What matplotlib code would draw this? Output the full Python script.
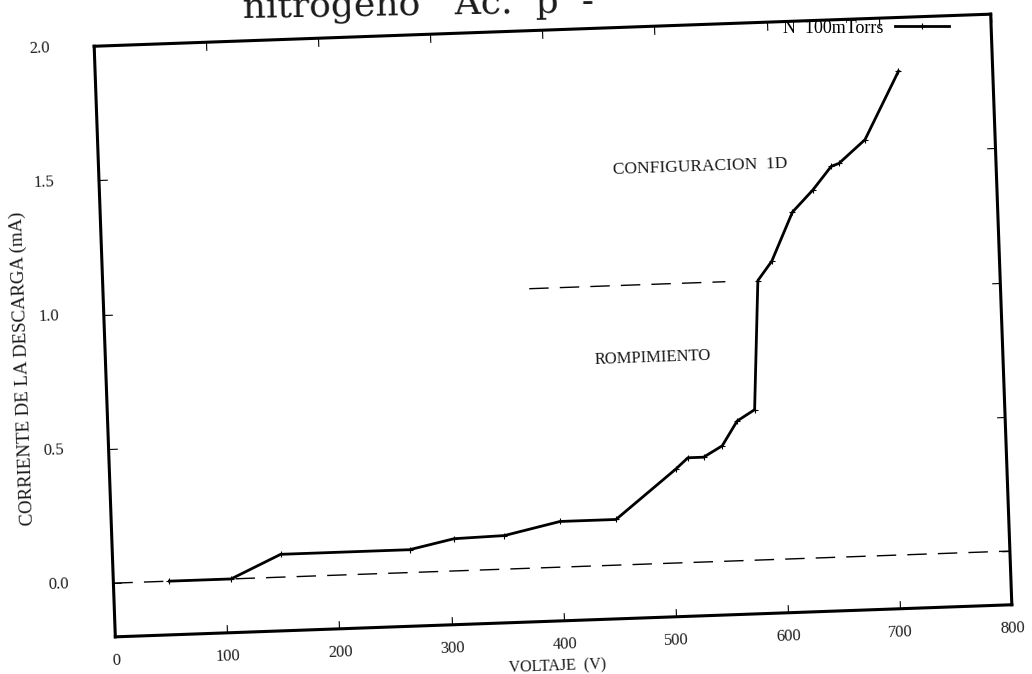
"""
Curva de corriente de descarga vs voltaje (nitrogeno, 100 mTorrs).
The scanned reference is tilted a couple of degrees, so the plot is drawn
on a rotated floating axes.
"""

import matplotlib
matplotlib.use("Agg")
import matplotlib.pyplot as plt
from matplotlib.transforms import Affine2D
import mpl_toolkits.axisartist.floating_axes as floating_axes
from mpl_toolkits.axisartist.grid_finder import FixedLocator, DictFormatter

# data
voltaje = [50, 105, 150, 265, 305, 350, 400, 450, 505, 516, 530, 547,
           561, 577, 584, 597, 617, 636, 653, 660, 684, 716]
corriente = [0.0, 0.0, 0.085, 0.085, 0.12, 0.125, 0.17, 0.17, 0.35, 0.39,
             0.39, 0.43, 0.52, 0.56, 1.04, 1.11, 1.29, 1.37, 1.455, 1.465,
             1.55, 1.80]

cero_x = [0, 800]
cero_y = [0.0, 0.0]
umbral_x = [380, 555]
umbral_y = [1.04, 1.04]

x_ticks = [0, 100, 200, 300, 400, 500, 600, 700, 800]
x_labels = ["0", "100", "200", "300", "400", "500", "600", "700", "800"]
y_ticks = [0.0, 0.5, 1.0, 1.5, 2.0]
y_labels = ["0.0", "0.5", "1.0", "1.5", "2.0"]

ANGLE = 2.05
SERIF = "Liberation Serif"
INK = "#1a1a1a"


def main():
    fig = plt.figure(figsize=(10.32, 6.74), dpi=100)

    tr = Affine2D().scale(1.125, 269.5).rotate_deg(ANGLE)
    grid_helper = floating_axes.GridHelperCurveLinear(
        tr,
        extremes=(0, 800, -0.2, 2.0),
        grid_locator1=FixedLocator(x_ticks),
        tick_formatter1=DictFormatter(dict(zip(x_ticks, x_labels))),
        grid_locator2=FixedLocator(y_ticks),
        tick_formatter2=DictFormatter(dict(zip(y_ticks, y_labels))),
    )
    ax = fig.add_axes([85 / 1032, 28 / 674, 936 / 1032, 641 / 674],
                      axes_class=floating_axes.FloatingAxes,
                      grid_helper=grid_helper)
    aux = ax.get_aux_axes(tr)

    for side in ["left", "right", "bottom", "top"]:
        ax.axis[side].line.set_linewidth(2.2)
        ax.axis[side].major_ticks.set_ticksize(6)
        ax.axis[side].major_ticks.set_linewidth(0.8)
        ax.axis[side].major_ticklabels.set_fontfamily(SERIF)
        ax.axis[side].major_ticklabels.set_fontsize(12)
        ax.axis[side].major_ticklabels.set_color(INK)
    ax.axis["top"].major_ticklabels.set_visible(False)
    ax.axis["right"].major_ticklabels.set_visible(False)
    ax.axis["bottom"].major_ticklabels.set_pad(12)
    ax.axis["left"].major_ticklabels.set_pad(32)

    # reference lines
    aux.plot(cero_x, cero_y, color="black", lw=1.0, dashes=(14, 8))
    aux.plot(umbral_x, umbral_y, color="black", lw=1.0, dashes=(14, 8))

    curva, = aux.plot(voltaje, corriente, color="black", lw=2.0,
                      marker="+", markersize=5, markeredgewidth=0.8)

    txt = dict(family=SERIF, color=INK, rotation=ANGLE,
               rotation_mode="anchor", ha="center", va="center")
    aux.text(536, 1.47, "CONFIGURACION  1D", fontsize=12.5, **txt)
    aux.text(488, 0.765, "ROMPIMIENTO", fontsize=12, **txt)
    aux.text(393, -0.37, "VOLTAJE  (V)", fontsize=11.5, clip_on=False, **txt)
    aux.text(-74, 0.81, "CORRIENTE DE LA DESCARGA (mA)", fontsize=13.5,
             family=SERIF, color=INK, rotation=90 + ANGLE,
             rotation_mode="anchor", ha="center", va="center", clip_on=False)

    ax.legend(handles=[curva], labels=["N  100mTorrs"], loc="center right",
              bbox_to_anchor=(0.935, 0.958), bbox_transform=fig.transFigure,
              frameon=False, markerfirst=False, handlelength=3,
              handletextpad=0.6, prop={"family": SERIF, "size": 13})

    # title, mostly cut off by the top of the scan
    fig.text(243 / 1032, 1 - 18 / 674, "nitrogeno   Ac.  p  -",
             family="DejaVu Serif", fontsize=26, color=INK,
             rotation=1.0, rotation_mode="anchor",
             ha="left", va="baseline")

    fig.savefig("out.png", dpi=100, facecolor="white")
    plt.close(fig)


if __name__ == "__main__":
    main()
